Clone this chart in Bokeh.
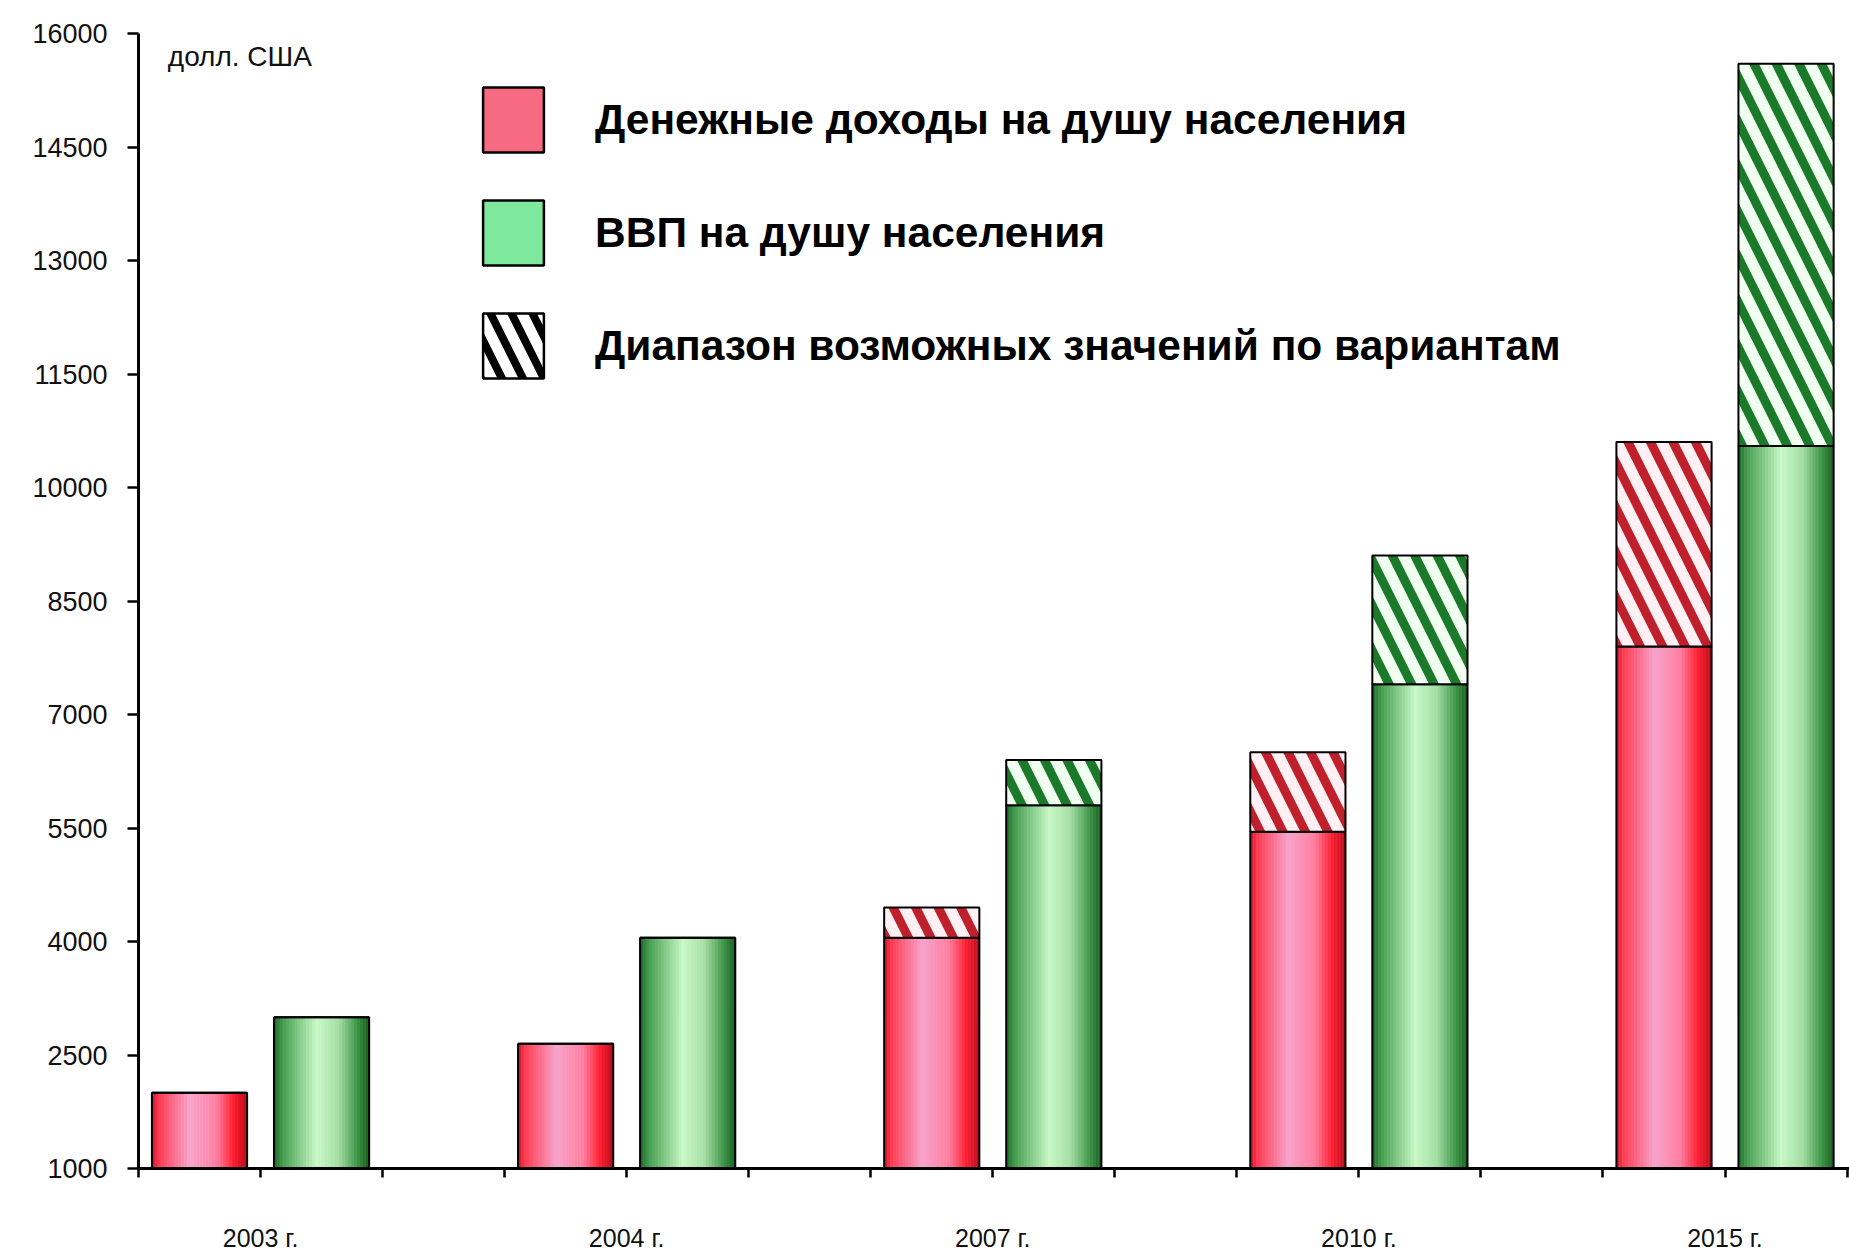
import numpy as np
from bokeh.plotting import figure
from bokeh.models import ColumnDataSource, Range1d, FixedTicker, Legend, LegendItem, Label
from bokeh.embed import file_html
from bokeh.resources import INLINE

# ---------------- data ----------------
categories = ["2003 г.", "2004 г.", "2007 г.", "2010 г.", "2015 г."]
income_base = [2000, 2650, 4050, 5450, 7900]     # денежные доходы (нижняя граница)
income_top = [2000, 2650, 4450, 6500, 10600]     # верхняя граница диапазона
gdp_base = [3000, 4050, 5800, 7400, 10550]       # ВВП (нижняя граница)
gdp_top = [3000, 4050, 6400, 9100, 15600]        # верхняя граница диапазона
y_ticks = [1000, 2500, 4000, 5500, 7000, 8500, 10000, 11500, 13000, 14500, 16000]
unit_label = "долл. США"
legend_labels = ["Денежные доходы на душу населения",
                 "ВВП на душу населения",
                 "Диапазон возможных значений по вариантам"]

# ---------------- layout constants ----------------
Y_MIN, Y_MAX = 1000, 16000
SLOTS = 3          # income bar, gdp bar, gap
BAR_W = 0.78
N_STRIPS = 32
N_SLOTS = len(categories) * SLOTS - 1

red_stops = [(0.0, "#c8142a"), (0.07, "#ff3a50"), (0.40, "#f7a4cc"), (0.68, "#ff7ea0"),
             (0.86, "#ff1e30"), (1.0, "#b80c1c")]
green_stops = [(0.0, "#1f6a28"), (0.10, "#48a052"), (0.45, "#c8f8c6"), (0.68, "#a4dea4"),
               (0.88, "#3a9444"), (1.0, "#1a5e22")]


def hex2rgb(h):
    return np.array([int(h[i:i + 2], 16) for i in (1, 3, 5)], dtype=float)


def grad_color(stops, t):
    for (t0, c0), (t1, c1) in zip(stops[:-1], stops[1:]):
        if t0 <= t <= t1:
            f = (t - t0) / (t1 - t0)
            c = hex2rgb(c0) * (1 - f) + hex2rgb(c1) * f
            return "#%02x%02x%02x" % tuple(int(round(v)) for v in c)
    return stops[-1][1]


group_x = np.arange(len(categories)) * SLOTS
x_income = group_x + 0.5
x_gdp = group_x + 1.5
label_pos = group_x + 1

p = figure(width=1849, height=1255,
           x_range=Range1d(0, N_SLOTS + 0.02),
           y_range=Range1d(Y_MIN, Y_MAX),
           output_backend="svg", toolbar_location=None,
           min_border_left=138, min_border_right=0,
           min_border_top=33, min_border_bottom=87)


def gradient_bars(xs, tops, stops):
    sx, sw, st, sc = [], [], [], []
    dw = BAR_W / N_STRIPS
    for xc, tp in zip(xs, tops):
        for k in range(N_STRIPS):
            sx.append(xc - BAR_W / 2 + (k + 0.5) * dw)
            sw.append(dw * 1.15)
            st.append(tp)
            sc.append(grad_color(stops, (k + 0.5) / N_STRIPS))
    src = ColumnDataSource(dict(x=sx, w=sw, top=st, c=sc))
    p.vbar(x="x", width="w", bottom=Y_MIN, top="top", source=src,
           fill_color="c", line_color=None)
    p.vbar(x=list(xs), width=BAR_W, bottom=Y_MIN, top=list(tops),
           fill_color=None, line_color="black", line_width=2)


gradient_bars(x_income, income_base, red_stops)
gradient_bars(x_gdp, gdp_base, green_stops)

# ranges (hatched)
p.vbar(x=list(x_income), width=BAR_W, bottom=income_base, top=income_top,
       fill_color="#fff0f4", hatch_pattern="left_diagonal_line", hatch_color="#c0202c",
       hatch_scale=45, hatch_weight=9, line_color="black", line_width=2)
p.vbar(x=list(x_gdp), width=BAR_W, bottom=gdp_base, top=gdp_top,
       fill_color="#f0fff0", hatch_pattern="left_diagonal_line", hatch_color="#1a7a2a",
       hatch_scale=45, hatch_weight=9, line_color="black", line_width=2)

# legend proxies: zero-height bars sitting on the axis line (hidden beneath it)
proxy = dict(x=list(x_income[:1]), top=[Y_MIN], bottom=[Y_MIN])
r1 = p.vbar(x="x", top="top", bottom="bottom", width=BAR_W, source=ColumnDataSource(proxy),
            fill_color="#f66a82", line_color="black", line_width=2.5)
r2 = p.vbar(x="x", top="top", bottom="bottom", width=BAR_W, source=ColumnDataSource(proxy),
            fill_color="#7ee89c", line_color="black", line_width=2.5)
r3 = p.vbar(x="x", top="top", bottom="bottom", width=BAR_W, source=ColumnDataSource(proxy),
            fill_color="white", hatch_pattern="left_diagonal_line", hatch_color="black",
            hatch_scale=42, hatch_weight=8, line_color="black", line_width=2.5)

legend = Legend(items=[LegendItem(label=legend_labels[0], renderers=[r1]),
                       LegendItem(label=legend_labels[1], renderers=[r2]),
                       LegendItem(label=legend_labels[2], renderers=[r3])],
                location=(337, 782), glyph_width=76, glyph_height=81, spacing=32,
                label_standoff=44, label_text_font_size="42.5px", label_text_font_style="bold",
                label_text_font="Liberation Sans", label_text_color="black", label_height=81,
                padding=0, margin=0, border_line_color=None, background_fill_alpha=0)
p.add_layout(legend)

p.add_layout(Label(x=0.24, y=15690, text=unit_label, text_font="Liberation Sans",
                   text_font_size="28px", text_baseline="middle", text_align="left",
                   text_color="#111111"))

# axes
p.xaxis.ticker = FixedTicker(ticks=list(range(N_SLOTS + 1)))
overrides = {i: "" for i in range(N_SLOTS + 1)}
for pos, lab in zip(label_pos, categories):
    overrides[int(pos)] = lab
p.xaxis.major_label_overrides = overrides
p.xaxis.major_label_text_font = "Liberation Sans"
p.xaxis.major_label_text_font_size = "25px"
p.xaxis.major_label_standoff = 46
p.xaxis.major_tick_out = 9
p.xaxis.major_tick_in = 0
p.xaxis.minor_tick_line_color = None

p.yaxis.ticker = FixedTicker(ticks=y_ticks)
p.yaxis.major_label_text_font = "Liberation Sans"
p.yaxis.major_label_text_font_size = "27px"
p.yaxis.major_label_standoff = 20
p.yaxis.major_tick_out = 11
p.yaxis.major_tick_in = 0
p.yaxis.minor_tick_line_color = None

for ax in (p.xaxis, p.yaxis):
    ax.axis_line_width = 3
    ax.axis_line_color = "black"
    ax.major_tick_line_width = 2.5
    ax.major_tick_line_color = "black"
    ax.major_label_text_color = "#111111"

p.grid.visible = False
p.outline_line_color = None
p.background_fill_color = "white"
p.border_fill_color = "white"

open("out.html", "w").write(file_html(p, INLINE))
